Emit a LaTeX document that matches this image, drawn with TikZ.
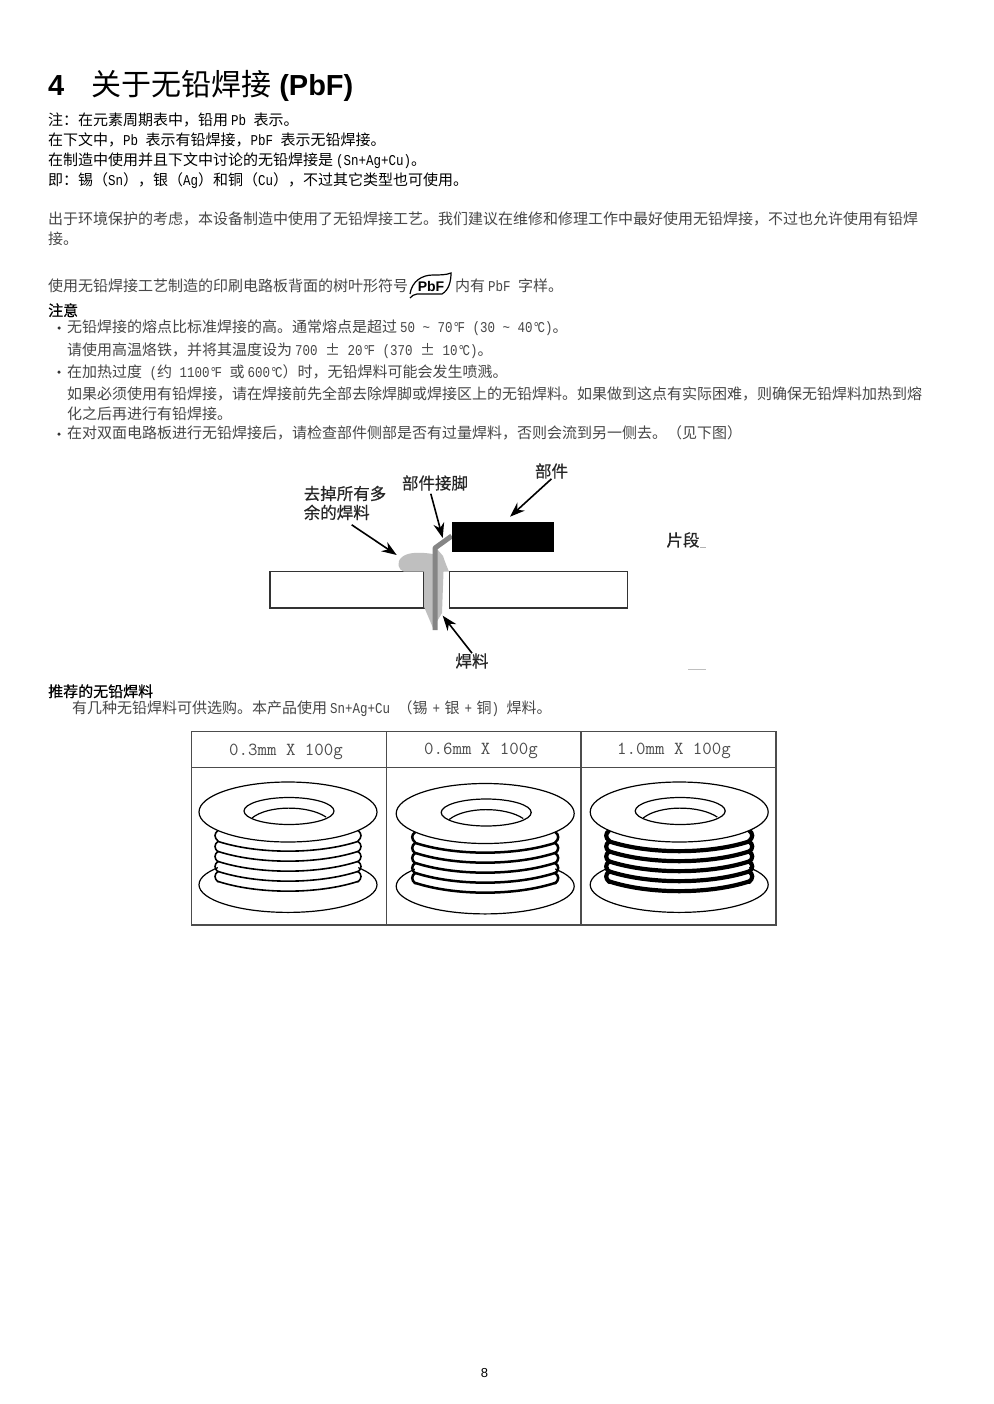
\documentclass[tikz,border=0pt]{standalone}
\usepackage{fontspec}
\usepackage{xcolor}
\setmainfont{Liberation Sans}
\newfontfamily\cjk{Noto Sans CJK SC}
\newfontfamily\cjkmed[FakeBold=0.5]{Noto Sans CJK SC}
\newfontfamily\latfont[FakeStretch=0.8333]{Liberation Mono}
\newcommand{\la}[1]{{\latfont #1}}
\newcommand{\cma}{\symbol{"FF0C}}
\newcommand{\cln}{\symbol{"FF1A}}
\newcommand{\opn}{\symbol{"FF08}}
\newcommand{\cls}{\symbol{"FF09}}
\newcommand{\dg}{\symbol{"B0}\hspace{-2.5pt}}
\newcommand{\gap}{\hspace{3pt}}
\usetikzlibrary{arrows.meta}
\usetikzlibrary{positioning}
\tikzset{
    heading/.style={anchor=base west, inner sep=0pt, font=\fontsize{29}{29}\selectfont\bfseries},
    noteline/.style={anchor=base west, inner sep=0pt, font=\fontsize{15}{15}\selectfont\cjk, text=black},
    bodyline/.style={anchor=base west, inner sep=0pt, font=\fontsize{15}{15}\selectfont\cjk, text=black!72},
    subhead/.style={anchor=base west, inner sep=0pt, font=\fontsize{15}{15}\selectfont\cjkmed, text=black},
    figlabel/.style={inner sep=0pt, align=left, font=\fontsize{16.5}{19}\selectfont\cjkmed, text=black!85},
    sizelabel/.style={inner sep=0pt, font=\fontsize{18.4}{18.4}\selectfont\ttfamily, text=black!70},
    bulletdot/.style={circle, fill=black!80, inner sep=0pt, minimum size=3.5pt},
    board/.style={draw=black!80, fill=white, line width=1.1pt},
    callout/.style={draw=black, line width=1.6pt, -{Stealth[length=15pt,width=11pt]}},
    cellline/.style={draw=black!70, line width=1.2pt},
    rim/.style={draw=black, line width=1.2pt, fill=white},
}
\begin{document}
\begin{tikzpicture}[x=1pt,y=-1pt]
    \useasboundingbox[fill=white] (0,0) rectangle (993,1404);

    \node[heading] (title) at (48,96) {4};
    \node[heading] (titletext) at (91,96) {{\fontsize{30}{30}\selectfont\cjk\mdseries 关于无铅焊接} (PbF)};

    \node[noteline] (noteA) at (48,125.5) {注\cln 在元素周期表中\cma 铅用\gap\la{Pb }表示。};
    \node[noteline] (noteB) at (48,145.5) {在下文中\cma\la{Pb }表示有铅焊接\cma\la{PbF }表示无铅焊接。};
    \node[noteline] (noteC) at (48,165.5) {在制造中使用并且下文中讨论的无铅焊接是\gap\la{(Sn+Ag+Cu)}。};
    \node[noteline] (noteD) at (48,185.5) {即\cln 锡\opn\la{Sn}\cls\cma 银\opn\la{Ag}\cls 和铜\opn\la{Cu}\cls\cma 不过其它类型也可使用。};

    \node[bodyline] (paraA) at (48,225) {出于环境保护的考虑\cma 本设备制造中使用了无铅焊接工艺。我们建议在维修和修理工作中最好使用无铅焊接\cma 不过也允许使用有铅焊};
    \node[bodyline] (paraB) at (48,245) {接。};
    \node[bodyline] (paraC) at (48,291) {使用无铅焊接工艺制造的印刷电路板背面的树叶形符号};
    \node[bodyline] (paraD) at (455,291) {内有\gap\la{PbF }字样。};

    \draw[black, line width=1.2pt] (410,294) .. controls (412,281) and (422,275) .. (433,275) .. controls (440,275) and (446,275) .. (451,273) .. controls (451,281) and (449,290) .. (442,294) -- (417,294) .. controls (414,294) and (412,296) .. (410,298);
    \node[inner sep=0pt, font=\fontsize{14}{14}\selectfont\bfseries] (leaf) at (431,286) {PbF};

    \node[subhead] (caution) at (48,316) {注意};
    \node[bulletdot] (dotA) at (59,328) {};
    \node[bodyline] (itemA) at (67,332.5) {无铅焊接的熔点比标准焊接的高。通常熔点是超过\gap\la{50 \textasciitilde{} 70\dg F (30 \textasciitilde{} 40\dg C)}。};
    \node[bodyline] (itemAb) at (67,355) {请使用高温烙铁\cma 并将其温度设为\gap\la{700 }±\la{ 20\dg F (370 }±\la{ 10\dg C)}。};
    \node[bulletdot] (dotB) at (59,372) {};
    \node[bodyline] (itemB) at (67,377.5) {在加热过度\la{ (}约\la{ 1100\dg F }或\gap\la{600\dg C}\cls 时\cma 无铅焊料可能会发生喷溅。};
    \node[bodyline] (itemBb) at (67,399) {如果必须使用有铅焊接\cma 请在焊接前先全部去除焊脚或焊接区上的无铅焊料。如果做到这点有实际困难\cma 则确保无铅焊料加热到熔};
    \node[bodyline] (itemBc) at (67,419) {化之后再进行有铅焊接。};
    \node[bulletdot] (dotC) at (59,434) {};
    \node[bodyline] (itemC) at (67,438.5) {在对双面电路板进行无铅焊接后\cma 请检查部件侧部是否有过量焊料\cma 否则会流到另一侧去。\opn 见下图\cls};

    \draw[board] (270,571.7) rectangle (424,608);
    \draw[board] (449.5,571.7) rectangle (627.7,608);
    \fill[black!25] (424,571.7) -- (404,571.7) .. controls (398,570) and (396,562) .. (402,557) .. controls (408,552) and (420,552) .. (433,554) -- (437,549) -- (443,556) .. controls (445,562) and (447,567) .. (449,571.7) -- (443.5,571.7) -- (442,613) -- (433,628) -- (424,606.7) -- cycle;
    \draw[black!48, line width=5pt, line join=round] (451.7,536) -- (435,548) -- (435,630);
    \fill[black] (451.7,522.3) rectangle (554,551.7);

    \node[figlabel] (excess) at (345,503) {去掉所有多\\余的焊料};
    \node[figlabel] (leadlabel) at (435,483) {部件接脚};
    \node[figlabel] (partlabel) at (551.5,471) {部件};
    \node[figlabel] (solderlabel) at (472,661) {焊料};
    \node[figlabel] (sectionlabel) at (683,540) {片段};
    \coordinate (excesstip) at (396.7,555);
    \coordinate (leadtip) at (442.7,538);
    \coordinate (parttip) at (510,516.7);
    \coordinate (soldertip) at (442.7,615.7);
    \draw[callout, shorten <=8pt] (excess.south) -- (excesstip);
    \draw[callout, shorten <=3pt] ([xshift=-5pt]leadlabel.south) -- (leadtip);
    \draw[callout] (partlabel.south) -- (parttip);
    \draw[callout] (solderlabel.north) -- (soldertip);
    \draw[black!25, line width=1pt] (688,669) -- (706,669);
    \draw[black!30, line width=0.8pt] (700,547) -- (706,547);

    \node[subhead] (advice) at (48,697) {推荐的无铅焊料};
    \node[bodyline] (adviceline) at (72,713.5) {有几种无铅焊料可供选购。本产品使用\gap\la{Sn+Ag+Cu }\opn 锡\hspace{5pt}\la{+}\hspace{4.5pt}银\hspace{5pt}\la{+}\hspace{4.5pt}铜\la{) }焊料。};

    \draw[cellline] (191.7,731.7) rectangle (776,925);
    \draw[cellline] (191.7,767.3) -- (776,767.3);
    \draw[cellline] (386.3,731.7) -- (386.3,925);
    \draw[cellline] (581,731.7) -- (581,925);

    \foreach \cx/\cy/\coilw/\sz/\lx/\ly in {288/812/1.6/0.3/286/751.5, 485.2/813.5/2.5/0.6/481/750.5, 679.2/812/4.2/1.0/674/750.5} {
        \node[sizelabel] (size\sz) at (\lx,\ly) {\sz mm X 100g};
        \begin{scope}[shift={(\cx,\cy)}]
            \draw[rim] (0,72.7) ellipse (89 and 27.7);
            \fill[white] (-70,18) -- (70,18) -- (70,69.4) .. controls (30,82.4) and (-30,82.4) .. (-70,69.4) -- cycle;
            \foreach \turn in {29.4,39.4,49.4,59.4,69.4} {
                \draw[line width=\coilw pt, line cap=round] (-70,\turn) .. controls (-30,\turn+13) and (30,\turn+13) .. (70,\turn);
            }
            \foreach \turn in {18.5,29.4,39.4,49.4,59.4} {
                \draw[line width=\coilw pt, line cap=round] (-70,\turn) .. controls (-74,\turn+3) and (-74,\turn+7) .. (-70,\turn+10.5);
                \draw[line width=\coilw pt, line cap=round] (70,\turn) .. controls (74,\turn+3) and (74,\turn+7) .. (70,\turn+10.5);
            }
            \draw[rim] (0,0) ellipse (89 and 30);
            \draw[rim] (1,-1) ellipse (45 and 13.5);
            \draw[black, line width=1.2pt] (-36,6) .. controls (-20,-7) and (20,-7) .. (38,5);
        \end{scope}
    }

    \node[inner sep=0pt, font=\fontsize{13}{13}\selectfont] (pagenumber) at (484.5,1373) {8};
\end{tikzpicture}
\end{document}
